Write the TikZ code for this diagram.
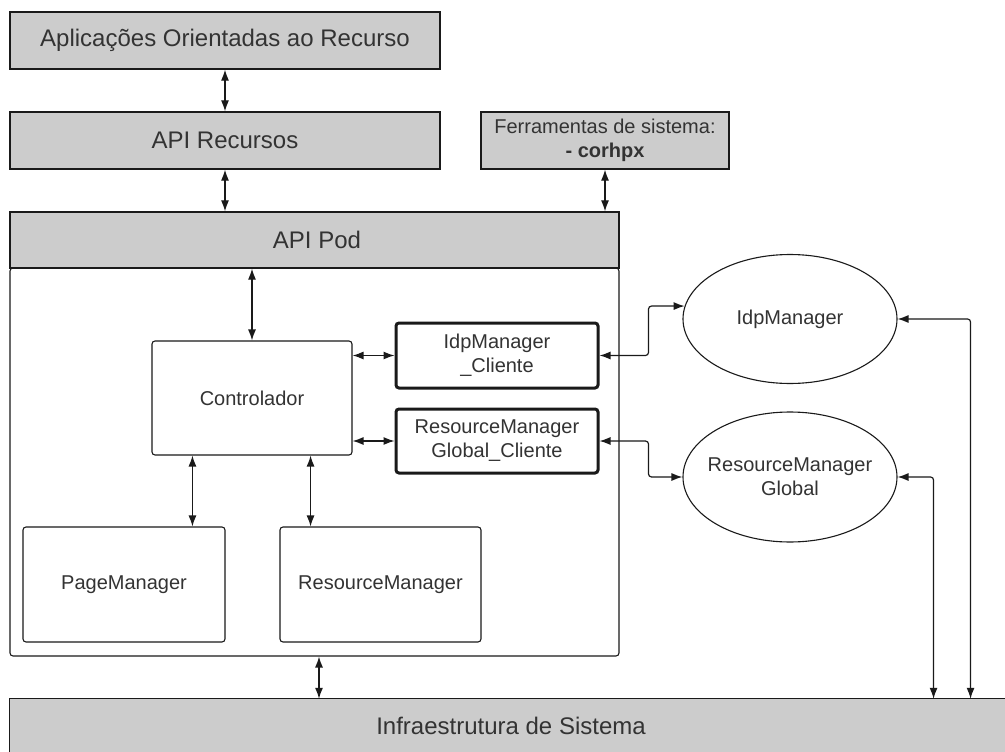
\documentclass[tikz,border=0pt]{standalone}
\usepackage{fontspec}
\setmainfont{Liberation Sans}
\usetikzlibrary{shapes.geometric,arrows.meta,calc}
\definecolor{txt}{HTML}{333333}
\definecolor{boxgray}{HTML}{CCCCCC}
\definecolor{edgec}{HTML}{1A1A1A}
\begin{document}
\begin{tikzpicture}[x=1pt,y=-1pt,
  big/.style={font=\fontsize{24}{28}\selectfont},
  small/.style={font=\fontsize{20}{24}\selectfont},
  graybox/.style={draw=edgec, line width=1.3pt, fill=boxgray, text=txt, inner sep=0pt, align=center},
  whitebox/.style={draw=edgec, line width=1.1pt, fill=white, rounded corners=3pt, text=txt, inner sep=0pt, align=center, small},
  thickbox/.style={whitebox, line width=3pt},
  oval/.style={ellipse, draw=edgec, line width=1.1pt, fill=white, text=txt, inner xsep=-12pt, inner ysep=-4pt, align=center, small},
  link/.style={draw=edgec, line width=1.2pt, {Latex[length=11pt,width=8pt]}-{Latex[length=11pt,width=8pt]}},
  rlink/.style={link, rounded corners=3pt}
]
\useasboundingbox (0,0) rectangle (1005,752);
\fill[white] (0,0) rectangle (1005,752);

% boxes
\node[graybox, big, minimum width=430pt, minimum height=57pt] (apl) at (225,40.5) {Aplicações Orientadas ao Recurso};
\node[graybox, big, minimum width=430pt, minimum height=57pt] (apir) at (225,140.5) {API Recursos};
\node[graybox, small, minimum width=248pt, minimum height=57pt] (ferr) at (605,140.5) {Ferramentas de sistema:\\\textbf{- corhpx}};
\node[whitebox, minimum width=609pt, minimum height=388pt] (cont) at (314.5,462) {};
\node[graybox, big, minimum width=609pt, minimum height=56pt] (apipod) at (314.5,240) {\hspace*{5pt}API Pod};

\node[whitebox, minimum width=200pt, minimum height=114pt] (ctrl) at (252,398) {Controlador};
\node[thickbox, minimum width=202pt, minimum height=65pt] (idpc) at (497,355.5) {IdpManager\\\_Cliente};
\node[thickbox, minimum width=202pt, minimum height=64pt] (rmgc) at (497,441) {ResourceManager\\Global\_Cliente};
\node[whitebox, minimum width=202pt, minimum height=115pt] (page) at (124,584.5) {PageManager};
\node[whitebox, minimum width=201pt, minimum height=115pt] (rm) at (380.5,584.5) {ResourceManager};

\node[oval, minimum width=214pt, minimum height=129pt] (idpm) at (790,319) {IdpManager};
\node[oval, minimum width=214pt, minimum height=130pt] (rmgm) at (790,477) {ResourceManager\\Global};

\node[fill=boxgray, text=txt, big, inner sep=0pt, minimum width=1002pt, minimum height=53pt] (infra) at (511,725.5) {Infraestrutura de Sistema};
\draw[draw=edgec, line width=1.3pt] (infra.south west) |- ([xshift=10pt]infra.north east);

% connectors
\draw[link] (apl.south) -- (apir.north);
\draw[link] (apir.south) -- (apir.south |- apipod.north);
\draw[link] (ferr.south) -- (ferr.south |- apipod.north);
\draw[link] (ctrl.north) -- (ctrl.north |- apipod.south);
\draw[link] (ctrl.east |- idpc.west) -- (idpc.west);
\draw[link] (ctrl.east |- rmgc.west) -- (rmgc.west);
\draw[link] ([xshift=41pt]ctrl.south west) -- ([xshift=41pt]ctrl.south west |- page.north);
\draw[link] ([xshift=-42pt]ctrl.south east) -- ([xshift=-42pt]ctrl.south east |- rm.north);
\draw[link] ([xshift=4.5pt]cont.south) -- ([xshift=4.5pt]cont.south |- infra.north);

\draw[rlink] (idpc.east) -- ([xshift=49pt]idpc.east) |- (idpm.173);
\draw[rlink] (rmgc.east) -- ([xshift=49pt]rmgc.east) |- (rmgm.west);
\draw[rlink] (rmgm.east) -| ([xshift=36pt]rmgm.east |- infra.north);
\draw[rlink] (idpm.east) -| ([xshift=73pt]idpm.east |- infra.north);
\end{tikzpicture}
\end{document}
